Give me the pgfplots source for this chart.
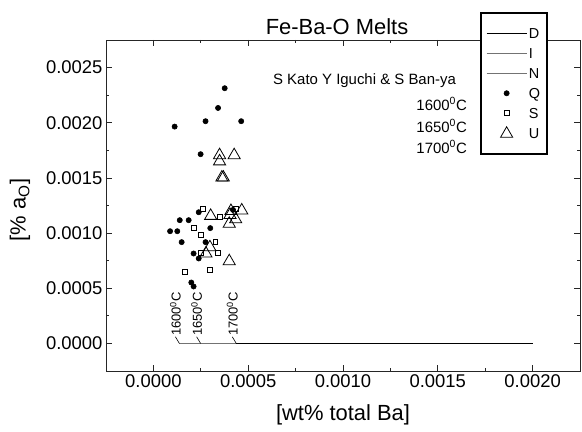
\documentclass[border=0pt]{standalone}
\usepackage{fontspec}
\setmainfont{Liberation Sans}
\usepackage{pgfplots}
\pgfplotsset{compat=1.18}
\begin{document}
\begin{tikzpicture}
\useasboundingbox (0bp,0bp) rectangle (582bp,432bp);
\begin{axis}[
  at={(106bp,61bp)}, anchor=south west,
  width=474bp, height=331bp, scale only axis,
  xmin=-0.00025, xmax=0.00225, ymin=-0.00025, ymax=0.00275,
  xtick={0,0.0005,0.001,0.0015,0.002},
  ytick={0,0.0005,0.001,0.0015,0.002,0.0025},
  minor x tick num=1, minor y tick num=1,
  tick align=inside,
  major tick length=6bp, minor tick length=3bp,
  scaled ticks=false,
  axis line style={line width=0.8bp, black!85},
  every tick/.style={black!85, line width=0.8bp},
  tick label style={font=\fontsize{18.5}{18.5}\selectfont},
  /pgf/number format/.cd, fixed, fixed zerofill, precision=4, assume math mode=true, /pgfplots/.cd,
  legend image code/.code={\draw[mark repeat=2,mark phase=2,#1] plot coordinates {(0bp,0bp)(20bp,0bp)(40bp,0bp)};},
  legend cell align=left,
  legend style={at={(axis description cs:0.789,1.085)}, anchor=north west,
    draw=black, line width=1.8bp, fill=white,
    inner xsep=5bp, inner ysep=14bp, row sep=7bp,
    font=\fontsize{14.5}{14.5}\selectfont,
    nodes={inner sep=1.5bp, text height=10bp, text depth=0bp}},
]
\addlegendimage{black, line width=1.5bp}
\addlegendentry{D}
\addplot[black!55, line width=1.1bp] coordinates {(0.000249,0) (0.002,0)};
\addlegendentry{I}
\addplot[black!55, line width=1.1bp] coordinates {(0.000137,0) (0.002,0)};
\addlegendentry{N}
\addplot[only marks, mark=*, mark size=2.6bp, black, line width=0.6bp] table {
0.000376 0.002313
0.000341 0.002134
0.000112 0.001965
0.000275 0.002014
0.000463 0.002014
0.000249 0.001715
0.000088 0.001017
0.000126 0.001017
0.000139 0.001117
0.000186 0.001117
0.000239 0.001189
0.000149 0.000918
0.000300 0.001045
0.000275 0.000918
0.000212 0.000815
0.000239 0.000770
0.000200 0.000552
0.000212 0.000516
0.000420 0.001210
};
\addlegendentry{Q}
\addplot[only marks, mark=square, mark size=2.4bp, black, line width=0.8bp] table {
0.000263 0.001217
0.000214 0.001045
0.000251 0.000985
0.000349 0.001144
0.000327 0.000921
0.000251 0.000818
0.000339 0.000818
0.000300 0.000667
0.000165 0.000645
0.000437 0.001220
};
\addlegendentry{S}
\addplot[only marks, mark=triangle, mark size=7bp, black, line width=0.8bp] table {
0.000349 0.001706
0.000349 0.001650
0.000426 0.001706
0.000361 0.001503
0.000369 0.001503
0.000302 0.001156
0.000409 0.001200
0.000404 0.001164
0.000434 0.001125
0.000400 0.001085
0.000466 0.001205
0.000298 0.000871
0.000277 0.000815
0.000400 0.000745
};
\addlegendentry{U}
\addplot[black, line width=1.5bp, forget plot] coordinates {(0.000437,0) (0.002,0)};
\draw[black, line width=0.6bp] (axis cs:0.000137,0) -- (axis cs:0.000116,0.00006) node[rotate=90, anchor=west, inner sep=0.5bp, font=\fontsize{13}{13}\selectfont] {1600\textsuperscript{0}C};
\draw[black, line width=0.6bp] (axis cs:0.000249,0) -- (axis cs:0.000228,0.00006) node[rotate=90, anchor=west, inner sep=0.5bp, font=\fontsize{13}{13}\selectfont] {1650\textsuperscript{0}C};
\draw[black, line width=0.6bp] (axis cs:0.000437,0) -- (axis cs:0.000416,0.00006) node[rotate=90, anchor=west, inner sep=0.5bp, font=\fontsize{13}{13}\selectfont] {1700\textsuperscript{0}C};
\end{axis}
\node[font=\fontsize{22}{22}\selectfont, inner sep=0] at (337bp,405bp) {Fe-Ba-O Melts};
\node[font=\fontsize{22}{22}\selectfont, inner sep=0] at (343bp,17bp) {[wt\% total Ba]};
\node[font=\fontsize{22}{22}\selectfont, inner sep=0, rotate=90] at (20bp,222bp) {[\% a\textsubscript{O}]};
\node[font=\fontsize{15}{15}\selectfont, inner sep=0] at (364.5bp,351bp) {S Kato Y Iguchi \& S Ban-ya};
\node[font=\fontsize{15}{15}\selectfont, inner sep=0, anchor=east] at (467bp,328bp) {1600\textsuperscript{0}C};
\node[font=\fontsize{15}{15}\selectfont, inner sep=0, anchor=east] at (467bp,306bp) {1650\textsuperscript{0}C};
\node[font=\fontsize{15}{15}\selectfont, inner sep=0, anchor=east] at (467bp,285bp) {1700\textsuperscript{0}C};
\end{tikzpicture}
\end{document}
